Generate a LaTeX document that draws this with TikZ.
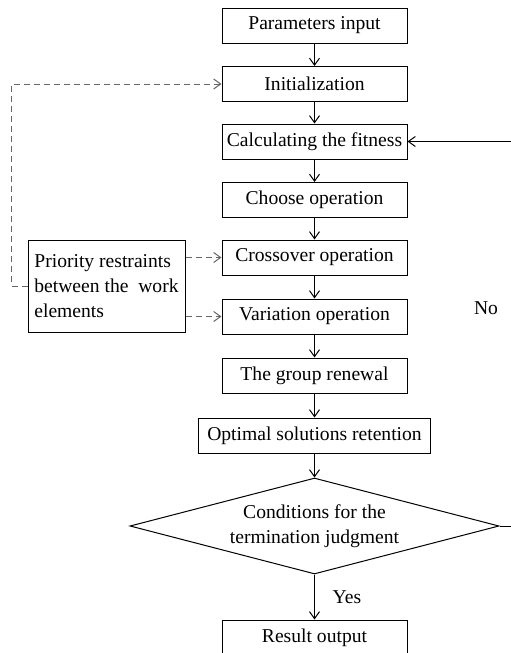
\documentclass[tikz,border=0pt]{standalone}
\usepackage{fontspec}
\setmainfont{Liberation Serif}
\usepackage{tikz}
\usetikzlibrary{shapes,arrows,positioning,calc,arrows.meta}

\begin{document}
\begin{tikzpicture}[x=0.5pt,y=-0.5pt,
    font=\fontsize{9.8}{12.4}\selectfont,
    >={Straight Barb[length=3.5pt,width=5pt]},
    box/.style={draw, line width=0.5pt, minimum width=92.5pt, minimum height=17.5pt, inner sep=1pt},
    flow/.style={->, line width=0.5pt},
    dashflow/.style={->, gray!80!black, line width=0.5pt, dash pattern=on 3pt off 2pt}]
    \useasboundingbox (0,0) rectangle (510,653);

    % main chain
    \node[box] (pin) at (314.5, 25.5) {Parameters input};
    \node[box] (init) at (314.5, 84) {Initialization};
    \node[box] (fit) at (314.5, 141.5) {Calculating the fitness};
    \node[box] (choose) at (314.5, 200) {Choose operation};
    \node[box] (cross) at (314.5, 257.5) {Crossover operation};
    \node[box] (vari) at (314.5, 316.5) {Variation operation};
    \node[box] (renew) at (314.5, 375.5) {The group renewal};
    \node[box, minimum width=116pt] (optimal) at (314.5, 435.5) {Optimal solutions retention};
    \node[draw, diamond, aspect=3.84, inner sep=0pt, minimum width=184.5pt, minimum height=48pt,
          line width=0.5pt, align=center] (judge) at (314.5, 526) {Conditions for the\\termination judgment};
    \node[box] (result) at (314.5, 637.5) {Result output};

    % side box
    \node[draw, line width=0.5pt, align=left, inner sep=1pt, minimum width=78.5pt,
          minimum height=46pt] (prio) at (106.5, 286) {Priority restraints\\between the\ \ work\\elements};

    \draw[flow] (pin) -- (init);
    \draw[flow] (init) -- (fit);
    \draw[flow] (fit) -- (choose);
    \draw[flow] (choose) -- (cross);
    \draw[flow] (cross) -- (vari);
    \draw[flow] (vari) -- (renew);
    \draw[flow] (renew) -- (optimal);
    \draw[flow] (optimal) -- (judge);
    \draw[flow] (judge) -- (result);
    \node (yes) at (347, 597) {Yes};

    % loop back
    \draw[flow] (judge.east) -- ++(22,0) |- (fit.east);
    \node (no) at (486, 308) {No};

    % restraints
    \draw[dashflow] (prio.west) -- ++(-16,0) |- (init.west);
    \draw[dashflow] (prio.east |- cross) -- (cross.west);
    \draw[dashflow] (prio.east |- vari) -- (vari.west);
\end{tikzpicture}
\end{document}
